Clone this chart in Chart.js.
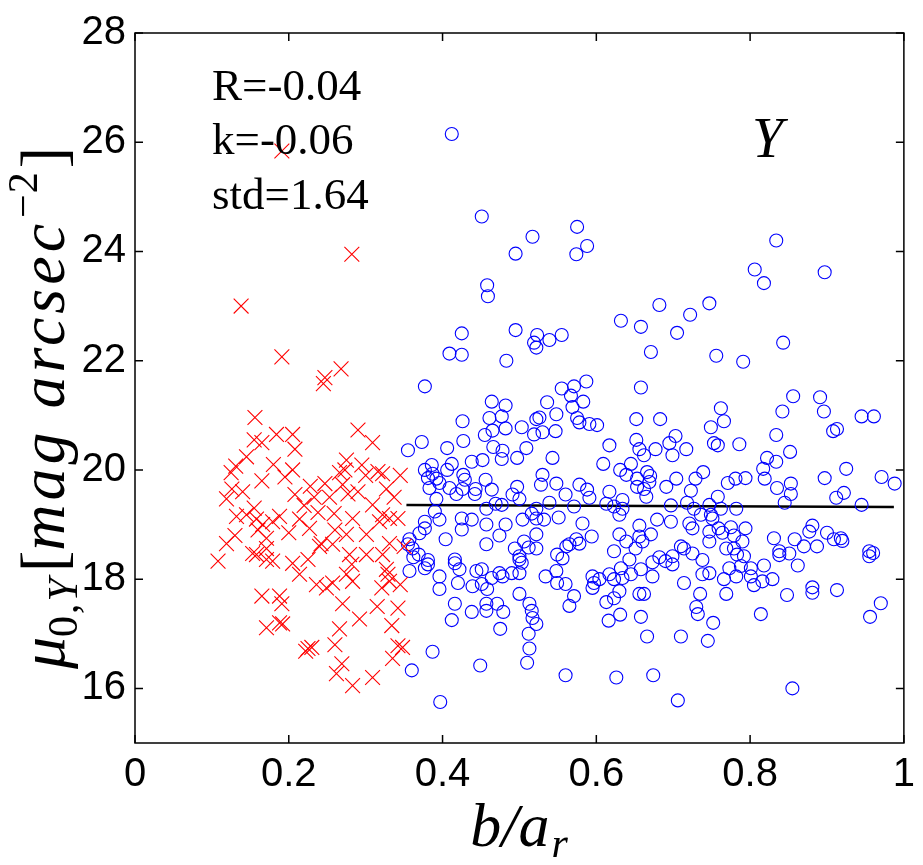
<!DOCTYPE html>
<html><head><meta charset="utf-8">
<script src="https://cdn.jsdelivr.net/npm/chart.js@4.4.1/dist/chart.umd.min.js"></script>
<style>html,body{margin:0;padding:0;background:#fff}#wrap{width:923px;height:865px;position:relative}</style>
</head><body><div id="wrap"><canvas id="c" width="923" height="865"></canvas></div>
<script>
// ---- data ----
const xTicks = [0, 0.2, 0.4, 0.6, 0.8, 1];
const yTicks = [16, 18, 20, 22, 24, 26, 28];
const statLines = ["R=-0.04", "k=-0.06", "std=1.64"];
const bandLabel = "Y";
const fitLine = [[0.353, 19.36], [0.987, 19.32]];
const redPoints = [
[0.138,23.0],[0.282,23.95],[0.191,25.84],[0.191,22.07],[0.247,21.69],[0.245,21.58],[0.268,21.85],[0.156,20.96],[0.29,20.73],[0.184,20.65],
[0.165,20.5],[0.145,20.24],[0.131,20.07],[0.205,20.65],[0.208,20.38],[0.195,19.87],[0.165,19.8],[0.126,19.65],[0.14,19.6],[0.119,19.47],
[0.145,19.18],[0.158,19.1],[0.132,19.15],[0.179,19.05],[0.188,19.15],[0.166,19.0],[0.208,19.55],[0.119,18.65],[0.171,18.75],[0.171,18.56],
[0.153,18.47],[0.108,18.33],[0.158,18.45],[0.171,18.36],[0.179,18.33],[0.205,18.29],[0.214,18.09],[0.225,18.36],[0.24,18.6],[0.257,18.64],
[0.236,17.9],[0.249,17.84],[0.257,17.93],[0.275,18.09],[0.283,17.96],[0.282,18.27],[0.322,18.45],[0.327,18.18],[0.329,18.09],[0.321,17.84],
[0.331,17.96],[0.165,17.69],[0.188,17.69],[0.191,17.55],[0.27,17.55],[0.342,17.47],[0.171,17.11],[0.192,17.18],[0.266,17.09],[0.292,17.27],
[0.334,17.15],[0.225,16.73],[0.23,16.75],[0.222,16.68],[0.342,16.78],[0.348,16.75],[0.335,16.55],[0.269,16.45],[0.262,16.27],[0.283,16.05],
[0.309,16.2],[0.309,20.5],[0.275,20.18],[0.295,20.09],[0.322,19.93],[0.316,19.97],[0.327,19.65],[0.27,19.73],[0.277,19.56],[0.309,19.36],
[0.322,19.18],[0.331,19.11],[0.342,19.11],[0.318,19.05],[0.283,19.11],[0.275,18.82],[0.301,18.82],[0.331,18.65],[0.279,18.45],[0.301,18.45],
[0.228,19.7],[0.247,19.75],[0.253,19.5],[0.22,19.35],[0.238,19.22],[0.214,19.1],[0.259,19.2],[0.227,18.93],[0.242,18.65],[0.266,19.95],
[0.273,20.0],[0.233,19.5],[0.26,18.9],[0.2,18.85],[0.13,18.8],[0.125,19.95],[0.155,19.3],[0.18,20.1],[0.205,20.0],[0.155,20.55],
[0.188,17.2],[0.16,18.9],[0.35,18.6],[0.345,17.9],[0.337,19.5],[0.345,19.9],[0.315,17.5],[0.26,16.8],[0.3,19.9],[0.29,19.6]
];
const bluePoints = [
[0.412,26.15],[0.451,24.64],[0.517,24.27],[0.495,23.96],[0.458,23.38],[0.459,23.18],[0.575,24.45],[0.574,23.95],[0.588,24.1],[0.834,24.2],
[0.806,23.67],[0.818,23.42],[0.897,23.62],[0.682,23.02],[0.747,23.05],[0.722,22.84],[0.632,22.73],[0.658,22.62],[0.705,22.51],[0.671,22.16],
[0.756,22.09],[0.791,21.98],[0.843,22.33],[0.425,22.5],[0.495,22.56],[0.409,22.13],[0.425,22.11],[0.483,22.0],[0.523,22.47],[0.519,22.33],
[0.522,22.24],[0.539,22.38],[0.555,22.47],
[0.587,21.62],[0.571,21.53],[0.555,21.49],[0.567,21.36],[0.536,21.24],[0.583,21.25],[0.569,21.15],[0.548,21.02],[0.658,21.51],[0.526,20.96],
[0.575,20.95],[0.578,20.87],[0.591,20.84],[0.601,20.82],[0.652,20.93],[0.683,20.93],[0.749,20.78],[0.519,20.65],[0.53,20.69],[0.547,20.71],
[0.617,20.45],[0.652,20.55],[0.656,20.38],[0.662,20.27],[0.677,20.38],[0.695,20.49],[0.703,20.62],[0.699,20.27],[0.717,20.38],[0.753,20.49],
[0.543,20.22],[0.609,20.11],[0.645,20.11],[0.631,20.0],[0.639,19.91],[0.666,19.96],[0.67,19.89],[0.669,19.78],[0.653,19.84],[0.653,19.69],
[0.662,19.65],[0.665,19.51],[0.691,19.69],[0.704,19.84],[0.723,19.62],[0.729,19.84],[0.739,19.96],[0.53,19.91],[0.528,19.73],[0.548,19.75],
[0.56,19.55],[0.578,19.73],[0.588,19.64],[0.591,19.49],[0.617,19.6],[0.613,19.38],[0.634,19.45],[0.539,19.4],[0.522,19.29],[0.571,19.33],
[0.623,19.33],[0.634,19.29],[0.63,19.18],[0.697,19.35],[0.718,19.4],[0.747,19.36],[0.727,19.29],[0.736,19.18],[0.749,19.18],[0.522,19.11],
[0.532,19.09],[0.551,19.13],[0.582,19.02],[0.679,19.09],[0.697,19.05],[0.656,18.98],[0.721,19.02],[0.725,18.93],[0.747,18.87],[0.522,18.82],
[0.594,18.78],[0.63,18.82],[0.656,18.78],[0.671,18.82],[0.574,18.73],[0.578,18.65],[0.565,18.64],[0.639,18.69],[0.66,18.69],[0.71,18.6],
[0.747,18.69],
[0.377,21.53],[0.464,21.25],[0.482,21.18],[0.461,20.95],[0.477,20.98],[0.426,20.89],[0.482,20.76],[0.465,20.72],[0.455,20.64],[0.503,20.78],
[0.522,20.93],[0.373,20.51],[0.427,20.53],[0.355,20.36],[0.406,20.4],[0.466,20.42],[0.478,20.35],[0.509,20.4],[0.497,20.22],[0.477,20.2],
[0.452,20.18],[0.438,20.15],[0.412,20.11],[0.406,20.0],[0.377,20.0],[0.386,20.09],[0.387,19.93],[0.381,19.85],[0.392,19.84],[0.427,19.91],
[0.429,19.82],[0.456,19.82],[0.396,19.76],[0.383,19.67],[0.409,19.67],[0.426,19.65],[0.443,19.65],[0.464,19.64],[0.418,19.56],[0.442,19.56],
[0.392,19.47],[0.497,19.69],[0.491,19.55],[0.5,19.47],[0.469,19.38],[0.477,19.36],[0.457,19.29],[0.39,19.24],[0.516,19.2],[0.504,19.09],
[0.425,19.11],[0.438,19.09],[0.396,19.09],[0.377,19.05],[0.377,18.93],[0.457,19.0],[0.482,19.0],[0.425,18.91],[0.37,18.84],[0.474,18.8],
[0.404,18.73],[0.357,18.73],[0.355,18.64],[0.457,18.64],[0.494,18.56],[0.506,18.69],[0.512,18.58],[0.361,18.56],[0.369,18.45],[0.416,18.36],
[0.381,18.35],[0.5,18.42],
[0.362,18.4],[0.357,18.15],[0.377,18.2],[0.381,18.27],[0.396,18.05],[0.396,17.82],[0.416,18.29],[0.422,18.18],[0.42,17.93],[0.444,18.15],
[0.451,18.18],[0.439,17.87],[0.451,17.91],[0.458,17.82],[0.464,18.02],[0.474,18.11],[0.478,18.05],[0.49,18.11],[0.5,18.11],[0.5,18.36],
[0.503,18.3],[0.5,17.73],[0.416,17.55],[0.457,17.55],[0.471,17.55],[0.438,17.4],[0.457,17.42],[0.479,17.4],[0.412,17.25],[0.475,17.09],
[0.513,17.55],[0.516,17.42],[0.517,17.29],[0.522,17.18],[0.512,17.0],[0.513,16.73],[0.51,16.47],[0.387,16.67],[0.36,16.33],[0.449,16.42],
[0.397,15.75],
[0.522,18.56],[0.549,18.45],[0.556,18.38],[0.561,18.6],[0.534,18.05],[0.548,18.15],[0.549,17.93],[0.56,17.91],[0.571,17.69],[0.565,17.51],
[0.595,18.05],[0.597,17.93],[0.595,17.84],[0.604,18.0],[0.617,18.09],[0.623,18.0],[0.632,18.2],[0.634,18.02],[0.63,17.78],[0.623,17.65],
[0.613,17.58],[0.631,17.35],[0.616,17.24],[0.623,18.51],[0.643,18.36],[0.645,18.09],[0.651,18.56],[0.658,18.18],[0.673,18.05],[0.656,17.73],
[0.662,17.73],[0.658,17.31],[0.666,16.95],[0.673,18.31],[0.682,18.4],[0.69,18.33],[0.699,18.42],[0.699,18.27],[0.714,18.56],[0.725,18.47],
[0.714,17.93],[0.738,18.35],[0.738,18.09],[0.747,18.11],[0.735,17.73],[0.73,17.49],[0.732,17.36],[0.752,17.2],[0.745,16.87],[0.71,16.95],
[0.56,16.24],[0.626,16.2],[0.674,16.24],[0.706,15.78],
[0.856,21.35],[0.891,21.33],[0.896,21.07],[0.842,21.07],[0.762,21.13],[0.766,20.89],[0.945,20.98],[0.961,20.98],[0.908,20.71],[0.913,20.75],
[0.834,20.64],[0.758,20.45],[0.786,20.47],[0.852,20.33],[0.822,20.22],[0.834,20.15],[0.817,20.02],[0.819,19.84],[0.925,20.02],[0.971,19.87],
[0.988,19.75],[0.897,19.85],[0.771,19.76],[0.781,19.84],[0.794,19.85],[0.835,19.67],[0.853,19.75],[0.853,19.56],[0.845,19.4],[0.758,19.51],
[0.912,19.49],[0.922,19.58],[0.945,19.36],[0.762,19.29],[0.782,19.29],[0.751,19.11],[0.759,18.93],[0.775,18.95],[0.794,18.93],[0.764,18.85],
[0.779,18.8],[0.79,18.69],[0.769,18.56],[0.779,18.56],[0.831,18.75],[0.858,18.73],[0.881,18.98],[0.877,18.87],[0.9,18.85],[0.909,18.73],
[0.918,18.75],[0.92,18.7],[0.838,18.51],[0.851,18.47],[0.87,18.6],[0.887,18.6],[0.955,18.51],[0.96,18.48],
[0.783,18.45],[0.792,18.42],[0.838,18.44],[0.862,18.25],[0.773,18.2],[0.788,18.24],[0.801,18.2],[0.818,18.25],[0.766,18.0],[0.782,18.05],
[0.801,18.05],[0.805,17.89],[0.816,17.96],[0.829,18.0],[0.769,17.73],[0.848,17.71],[0.881,17.85],[0.881,17.75],[0.913,17.8],[0.955,18.42],
[0.97,17.56],[0.956,17.31],[0.814,17.36],[0.855,16.0]
];

const toXY = a => a.map(p => ({x: p[0], y: p[1]}));
const SERIF = '"Liberation Serif", "Times New Roman", serif';
const SANS = '"Liberation Sans", Arial, Helvetica, sans-serif';

const framePlugin = {
  id: 'frame',
  afterDraw(chart) {
    const {ctx, chartArea: a, scales: {x, y}} = chart;
    ctx.save();
    ctx.strokeStyle = '#000';
    ctx.lineWidth = 1.5;
    ctx.strokeRect(a.left, a.top, a.right - a.left, a.bottom - a.top);
    const tl = 8;
    ctx.beginPath();
    xTicks.forEach(v => {
      const px = x.getPixelForValue(v);
      ctx.moveTo(px, a.bottom); ctx.lineTo(px, a.bottom - tl);
      ctx.moveTo(px, a.top); ctx.lineTo(px, a.top + tl);
    });
    yTicks.forEach(v => {
      const py = y.getPixelForValue(v);
      ctx.moveTo(a.left, py); ctx.lineTo(a.left + tl, py);
      ctx.moveTo(a.right, py); ctx.lineTo(a.right - tl, py);
    });
    ctx.stroke();

    // stats text
    ctx.fillStyle = '#000';
    ctx.textBaseline = 'alphabetic';
    ctx.textAlign = 'left';
    ctx.font = '45px ' + SERIF;
    const tx = a.left + 77;
    [100, 154, 209].forEach((by, i) => ctx.fillText(statLines[i], tx, by));
    ctx.font = 'italic 56px ' + SERIF;
    ctx.fillText(bandLabel, 752, 157);

    // x title: b/a_r
    ctx.font = 'italic 62px ' + SERIF;
    const main = 'b/a';
    const wMain = ctx.measureText(main).width;
    ctx.font = 'italic 42px ' + SERIF;
    const wSub = ctx.measureText('r').width;
    const cx = 518;
    let sx = cx - (wMain + wSub) / 2;
    ctx.font = 'italic 62px ' + SERIF;
    ctx.fillText(main, sx, 846);
    ctx.font = 'italic 42px ' + SERIF;
    ctx.fillText('r', sx + wMain + 2, 857);

    // y title: mu_{0,Y}[mag arcsec^{-2}]
    const segs = [
      {t: 'μ', f: 'italic 64px ' + SERIF, dy: 0, ls: 0},
      {t: '0,', f: '42px ' + SERIF, dy: 13, ls: 2},
      {t: 'Y', f: 'italic 42px ' + SERIF, dy: 13, ls: 0},
      {t: '[', f: '64px ' + SERIF, dy: 0, gap: 6, ls: 0},
      {t: 'mag arcsec', f: 'italic 64px ' + SERIF, dy: 0, ls: 4},
      {t: '−2', f: '42px ' + SERIF, dy: -27, ls: 1, gap: 2},
      {t: ']', f: '64px ' + SERIF, dy: 0, gap: 3, ls: 0}
    ];
    let total = 0;
    segs.forEach(s => {
      ctx.font = s.f; ctx.letterSpacing = s.ls + 'px';
      s.w = ctx.measureText(s.t).width; total += s.w + (s.gap || 0);
    });
    ctx.translate(64, 408);
    ctx.rotate(-Math.PI / 2);
    let p = -total / 2;
    segs.forEach(s => {
      p += (s.gap || 0); ctx.font = s.f; ctx.letterSpacing = s.ls + 'px';
      ctx.fillText(s.t, p, s.dy); p += s.w;
    });
    ctx.letterSpacing = '0px';
    ctx.restore();
  }
};

new Chart(document.getElementById('c'), {
  type: 'scatter',
  data: {
    datasets: [
      {label: 'red', data: toXY(redPoints), pointStyle: 'crossRot', pointRadius: 10.5, borderColor: '#ff0000', backgroundColor: '#ff0000', borderWidth: 1.1},
      {label: 'blue', data: toXY(bluePoints), pointStyle: 'circle', pointRadius: 6.5, borderColor: '#0000ff', backgroundColor: 'rgba(0,0,0,0)', borderWidth: 1.1},
      {label: 'fit', type: 'line', data: toXY(fitLine), borderColor: '#000', borderWidth: 2.5, pointRadius: 0, fill: false}
    ]
  },
  options: {
    responsive: false,
    animation: false,
    events: [],
    layout: {padding: {top: 28, right: 18, left: 0, bottom: 0}},
    plugins: {legend: {display: false}, tooltip: {enabled: false}},
    scales: {
      x: {
        type: 'linear', min: 0, max: 1,
        afterBuildTicks: s => { s.ticks = xTicks.map(v => ({value: v})); },
        afterFit: s => { s.height = 122; },
        grid: {display: false, drawTicks: false}, border: {display: false},
        ticks: {color: '#000', font: {family: SANS, size: 40}, padding: 8,
          callback: v => (v === 0 || v === 1) ? String(v) : v.toFixed(1)}
      },
      y: {
        type: 'linear', min: 15, max: 28,
        afterBuildTicks: s => { s.ticks = yTicks.map(v => ({value: v})); },
        afterFit: s => { s.width = 135; },
        grid: {display: false, drawTicks: false}, border: {display: false},
        ticks: {color: '#000', font: {family: SANS, size: 40}, padding: 9, callback: v => String(v)}
      }
    }
  },
  plugins: [framePlugin]
});
</script></body></html>
